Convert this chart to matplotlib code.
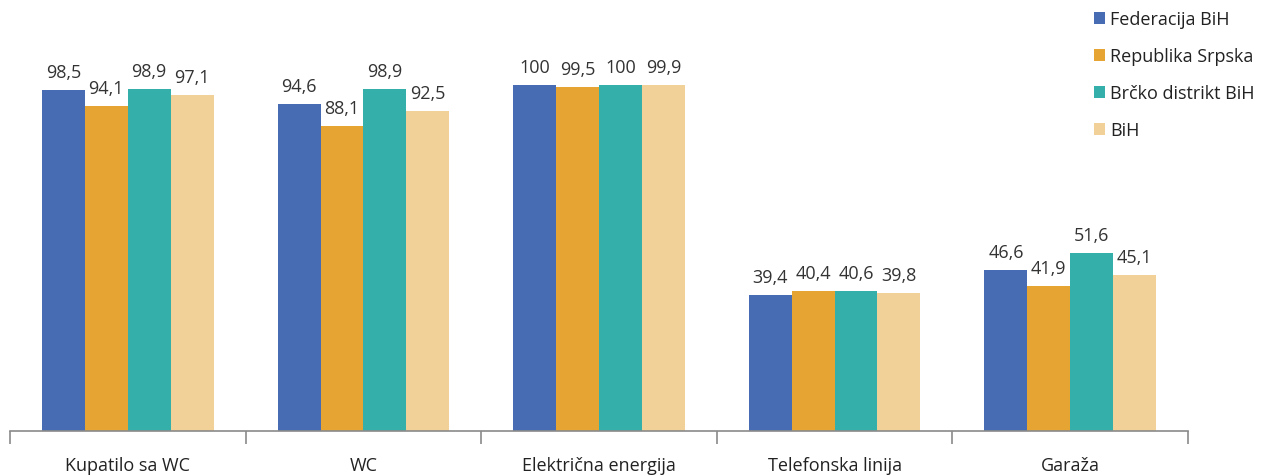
import numpy as np
import matplotlib
matplotlib.use("Agg")
import matplotlib.pyplot as plt
from matplotlib.patches import Patch

plt.rcParams["font.family"] = ["Open Sans", "DejaVu Sans"]

categories = ["Kupatilo sa WC", "WC", "Električna energija", "Telefonska linija", "Garaža"]
series = ["Federacija BiH", "Republika Srpska", "Brčko distrikt BiH", "BiH"]
fbih = [98.5, 94.6, 100, 39.4, 46.6]
rs = [94.1, 88.1, 99.5, 40.4, 41.9]
brcko = [98.9, 98.9, 100, 40.6, 51.6]
bih = [97.1, 92.5, 99.9, 39.8, 45.1]
colors = ["#476cb3", "#e6a532", "#35afaa", "#f1d197"]

values = [fbih, rs, brcko, bih]

fig = plt.figure(figsize=(12.62, 4.77), dpi=100)
ax = fig.add_axes([10 / 1262, 45 / 477, 1178 / 1262, 432 / 477])

x = np.arange(len(categories))
w = 0.182
for i, (vals, col) in enumerate(zip(values, colors)):
    pos = x - 1.5 * w + i * w
    ax.bar(pos, vals, width=w, color=col, edgecolor="none")
    for p, v in zip(pos, vals):
        lab = ("%g" % v).replace(".", ",")
        ax.text(p, v + 2.6, lab, ha="center", va="bottom", fontsize=13, color="#333333")

ax.set_xlim(-0.5, len(categories) - 0.5)
ax.set_ylim(0, 124.9)
for s in ["top", "right", "left"]:
    ax.spines[s].set_visible(False)
ax.spines["bottom"].set_color("#8a8a8a")
ax.spines["bottom"].set_linewidth(1.2)
ax.set_yticks([])

ax.set_xticks(np.arange(len(categories) + 1) - 0.5)
ax.set_xticklabels([])
ax.tick_params(axis="x", length=9, width=1.2, color="#8a8a8a")
ax.set_xticks(x, minor=True)
ax.set_xticklabels(categories, minor=True, fontsize=13, color="#222222")
ax.tick_params(axis="x", which="minor", length=0, pad=18)

handles = [Patch(facecolor=c, edgecolor="none") for c in colors]
fig.legend(handles, series, loc="upper left", bbox_to_anchor=(1078 / 1262, 1.01),
           frameon=False, fontsize=13, handlelength=0.6, handleheight=0.6,
           handletextpad=0.3, labelspacing=1.05, labelcolor="#222222")

fig.savefig("out.png", dpi=100)
